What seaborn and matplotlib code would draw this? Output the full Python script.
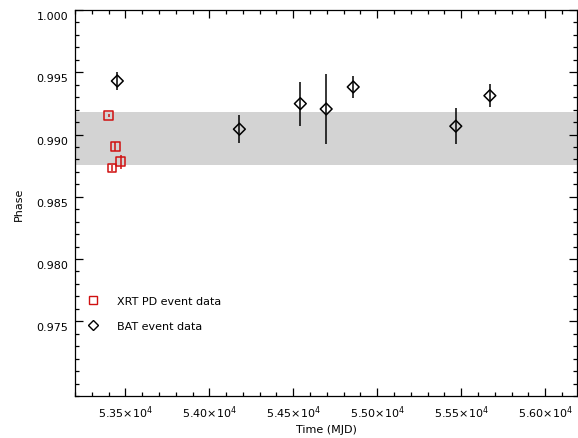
import numpy as np
import pandas as pd
import seaborn as sns
import matplotlib.pyplot as plt
from matplotlib.ticker import MultipleLocator, FixedLocator, FuncFormatter
from matplotlib.lines import Line2D
import matplotlib.transforms as mtransforms

# XRT PD event data
xrt_mjd = [53401, 53440, 53472, 53421]
xrt_phase = [0.99152, 0.98903, 0.98782, 0.98730]
xrt_err = [0.0001, 0.00036, 0.00056, 0.00024]

# BAT event data
bat_mjd = [53452, 54179, 54542, 54696, 54857, 55468, 55671]
bat_phase = [0.99430, 0.99043, 0.99248, 0.99205, 0.99382, 0.99067, 0.99312]
bat_err = [0.00072, 0.00112, 0.00177, 0.00285, 0.00092, 0.00146, 0.00092]

# shaded band (mean +/- sigma)
band_lo, band_hi = 0.98756, 0.99181

y_ticks = [0.975, 0.980, 0.985, 0.990, 0.995, 1.000]
x_ticks = [53500, 54000, 54500, 55000, 55500, 56000]

df_xrt = pd.DataFrame({'MJD': xrt_mjd, 'Phase': xrt_phase, 'err': xrt_err})
df_bat = pd.DataFrame({'MJD': bat_mjd, 'Phase': bat_phase, 'err': bat_err})

sns.set_theme(style='ticks')
plt.rcParams['font.family'] = ['DejaVu Sans']
plt.rcParams['font.size'] = 8
plt.rcParams['text.color'] = 'black'
plt.rcParams['axes.labelcolor'] = 'black'

fig = plt.figure(figsize=(5.78, 4.39), dpi=100)
ax = fig.add_axes([0.1298, 0.0957, 0.8685, 0.8792])

ax.axhspan(band_lo, band_hi, color='#d3d3d3', lw=0, zorder=0)

ax.errorbar(df_bat['MJD'], df_bat['Phase'], yerr=df_bat['err'], fmt='none',
            ecolor='black', elinewidth=1.1, capsize=0, zorder=2)
ax.errorbar(df_xrt['MJD'], df_xrt['Phase'], yerr=df_xrt['err'], fmt='none',
            ecolor='#d01010', elinewidth=1.1, capsize=0, zorder=2)

sns.scatterplot(data=df_bat, x='MJD', y='Phase', marker='D', s=36,
                facecolors='none', edgecolor='black', linewidth=1.1, ax=ax, zorder=3)
sns.scatterplot(data=df_xrt, x='MJD', y='Phase', marker='s', s=38,
                facecolors='none', edgecolor='#d01010', linewidth=1.1, ax=ax, zorder=3)

ax.set_xlim(53200, 56190)
ax.set_ylim(0.969, 1.000)

ax.xaxis.set_major_locator(FixedLocator(x_ticks))
ax.xaxis.set_minor_locator(MultipleLocator(100))
ax.yaxis.set_major_locator(FixedLocator(y_ticks))
ax.yaxis.set_minor_locator(MultipleLocator(0.001))
ax.xaxis.set_major_formatter(FuncFormatter(lambda v, p: r'$%.2f{\times}10^{4}$' % (v / 1e4)))
ax.yaxis.set_major_formatter(FuncFormatter(lambda v, p: '%.3f' % v))

ax.tick_params(which='both', direction='in', top=True, right=True, colors='black', width=0.9)
ax.tick_params(which='major', length=6, labelsize=8, pad=5)
ax.tick_params(which='minor', length=3)
for s in ax.spines.values():
    s.set_linewidth(0.9)
    s.set_color('black')

# shift y labels slightly down like the original
off = mtransforms.ScaledTranslation(0, -5 / 100, fig.dpi_scale_trans)
for lab in ax.get_yticklabels():
    lab.set_transform(lab.get_transform() + off)

ax.set_xlabel('Time (MJD)', fontsize=8, labelpad=3)
ax.set_ylabel('Phase', fontsize=8, labelpad=9)

handles = [
    Line2D([], [], marker='s', ls='none', mfc='none', mec='#d01010', ms=6, mew=1.0),
    Line2D([], [], marker='D', ls='none', mfc='none', mec='black', ms=5, mew=1.0),
]
ax.legend(handles, ['XRT PD event data', 'BAT event data'], loc='upper left',
          bbox_to_anchor=(0.004, 0.285), frameon=False, handlelength=1.0,
          handletextpad=1.7, labelspacing=1.35, fontsize=8, labelcolor='black')

fig.savefig('out.png', dpi=100)
